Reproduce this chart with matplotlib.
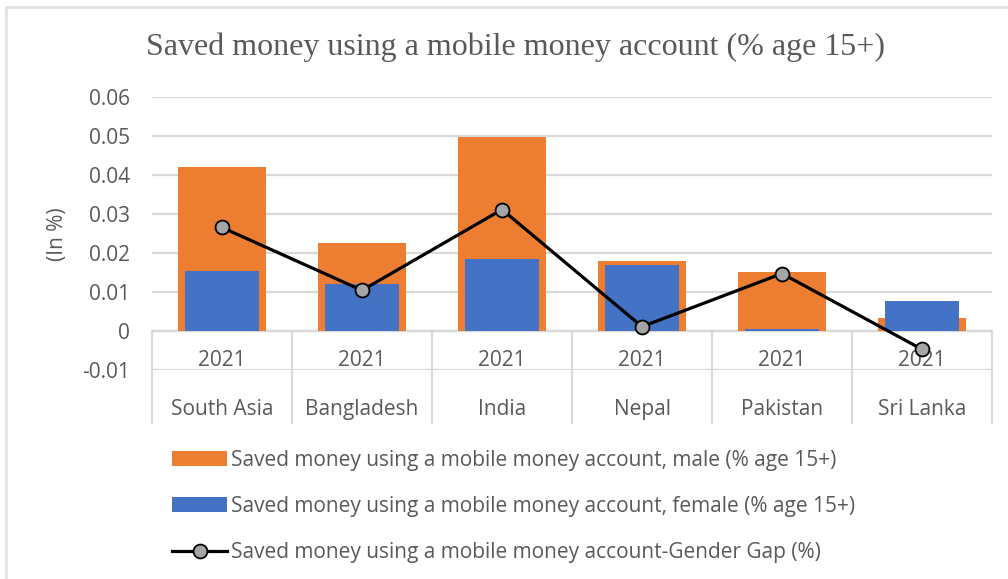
import matplotlib
matplotlib.use("Agg")
import matplotlib.pyplot as plt
from matplotlib.lines import Line2D
from matplotlib.patches import Patch
from matplotlib.transforms import blended_transform_factory

categories = ["South Asia", "Bangladesh", "India", "Nepal", "Pakistan", "Sri Lanka"]
years = ["2021", "2021", "2021", "2021", "2021", "2021"]
male = [0.0420, 0.0226, 0.0496, 0.0180, 0.0150, 0.0034]
female = [0.0154, 0.0120, 0.0184, 0.0168, 0.0004, 0.0078]
gap = [0.0265, 0.0104, 0.0311, 0.0011, 0.0147, -0.0047]
yticks = [-0.01, 0.0, 0.01, 0.02, 0.03, 0.04, 0.05, 0.06]
ytick_labels = ["-0.01", "0", "0.01", "0.02", "0.03", "0.04", "0.05", "0.06"]

label_male = "Saved money using a mobile money account, male (% age 15+)"
label_female = "Saved money using a mobile money account, female (% age 15+)"
label_gap = "Saved money using a mobile money account-Gender Gap (%)"
title = "Saved money using a mobile money account (% age 15+)"

ORANGE = "#ED7D31"
BLUE = "#4472C4"
TXT = "#595959"
GRID = "#d9d9d9"
FONT = "Open Sans"
FS = 15

W, H = 1008, 579
fig = plt.figure(figsize=(W / 100, H / 100), dpi=100)
ax = fig.add_axes([152 / W, 1 - 370 / H, 840 / W, (370 - 96.7) / H])

x = list(range(len(categories)))
ax.bar(x, male, width=0.626, color=ORANGE, zorder=2)
ax.bar(x, female, width=0.526, color=BLUE, zorder=3)
ax.plot(x, gap, color="black", lw=2.3, marker="o", markersize=10,
        markerfacecolor="#a5a5a5", markeredgecolor="black", markeredgewidth=1.3,
        zorder=5, clip_on=False)

ax.set_xlim(-0.5, len(categories) - 0.5)
ax.set_ylim(-0.01, 0.06)
ax.set_yticks(yticks)
ax.set_yticklabels(ytick_labels, fontfamily=FONT, fontsize=FS, color=TXT)
ax.tick_params(axis="y", length=0, pad=16)
ax.set_xticks([])
ax.yaxis.grid(True, color=GRID, lw=1.6, zorder=0)
ax.set_axisbelow(True)
for s in ax.spines.values():
    s.set_visible(False)
ax.axhline(0, color=GRID, lw=1.6, zorder=1)

# multi-level category table
tr = blended_transform_factory(ax.transData, ax.transAxes)
y0_axes = (0 - (-0.01)) / 0.07
for i in range(len(categories) + 1):
    ax.plot([i - 0.5, i - 0.5], [y0_axes, -0.194], transform=tr, color=GRID,
            lw=1.6, clip_on=False, zorder=1)
for i, (c, yr) in enumerate(zip(categories, years)):
    ax.text(i, 0.033, yr, transform=tr, ha="center", va="center",
            fontfamily=FONT, fontsize=FS, color=TXT, zorder=4)
    ax.text(i, -0.146, c, transform=tr, ha="center", va="center",
            fontfamily=FONT, fontsize=FS, color=TXT)

fig.text(58 / W, 1 - 234 / H, "(In %)", rotation=90, ha="center", va="center",
         fontfamily=FONT, fontsize=FS, color=TXT)
fig.text(515 / W, 1 - 47 / H, title, ha="center", va="center",
         fontfamily="Liberation Serif", fontsize=23, color=TXT)

handles = [
    Patch(facecolor=ORANGE, edgecolor="none"),
    Patch(facecolor=BLUE, edgecolor="none"),
    Line2D([], [], color="black", lw=2.3, marker="o", markersize=10,
           markerfacecolor="#a5a5a5", markeredgecolor="black", markeredgewidth=1.3),
]
leg = fig.legend(handles, [label_male, label_female, label_gap],
                 loc="upper left", bbox_to_anchor=(172 / W, 1 - 450 / H),
                 frameon=False, prop={"family": FONT, "size": FS},
                 handlelength=2.65, handleheight=0.75, handletextpad=0.2,
                 labelspacing=1.2, borderpad=0, borderaxespad=0)
for t in leg.get_texts():
    t.set_color(TXT)

# chart frame
fig.add_artist(Line2D([6 / W, 1], [1 - 6.5 / H, 1 - 6.5 / H], color="#e3e3e3", lw=2))
fig.add_artist(Line2D([6 / W, 6 / W], [0, 1 - 6.5 / H], color="#e3e3e3", lw=2))

fig.savefig("out.png", dpi=100)
